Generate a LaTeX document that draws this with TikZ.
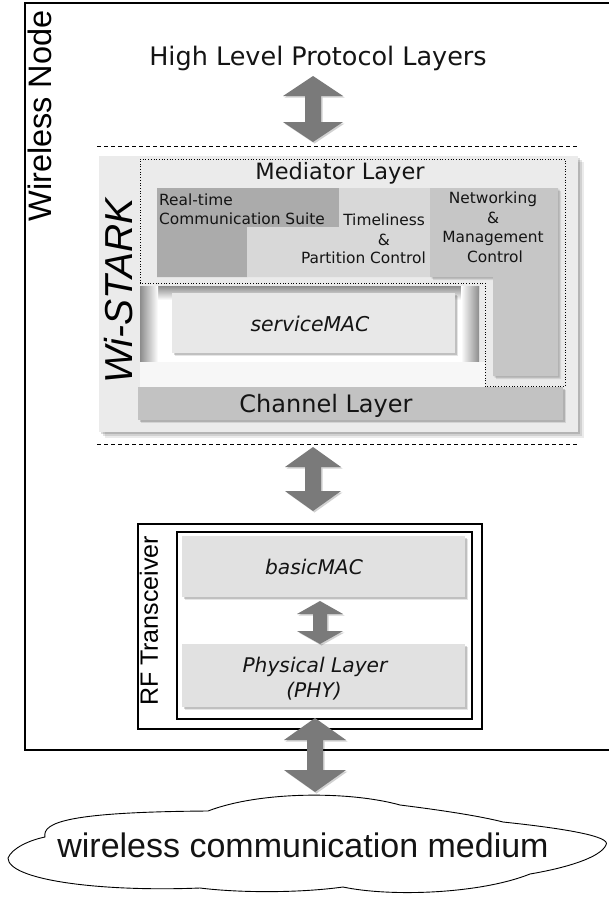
\documentclass[tikz,border=0pt]{standalone}
\usepackage{fontspec}
\setmainfont{DejaVu Sans}
\newfontfamily\hfont{Liberation Sans}
\usetikzlibrary{shadows,calc}
\definecolor{arrgray}{HTML}{7A7A7A}
\definecolor{wsbg}{HTML}{EBEBEB}
\definecolor{rtgray}{HTML}{ABABAB}
\definecolor{tlgray}{HTML}{D8D8D8}
\definecolor{nmgray}{HTML}{C6C6C6}
\definecolor{chgray}{HTML}{C2C2C2}
\definecolor{boxgray}{HTML}{E8E8E8}
\definecolor{edgegray}{HTML}{8C8C8C}
\definecolor{txt}{HTML}{141414}
\newcommand\fsz[1]{\fontsize{#1}{#1}\selectfont}
% double block arrow: top coord, bottom coord, head half width, head length, shaft half width
\newcommand\dblarr[5]{%
  \fill[arrst] (#1) -- ++(#3,#4) -- ++(#5-#3,0) -- ($(#2)+(#5,-#4)$) -- ++(#3-#5,0)
    -- (#2) -- ++(-#3,-#4) -- ++(#3-#5,0) -- ($(#1)+(-#5,#4)$) -- ++(#5-#3,0) -- cycle;}
\tikzset{
  softshadow/.style={general shadow={shadow xshift=1.5pt,shadow yshift=-1.5pt,fill=black,opacity=.16},
                     general shadow={shadow xshift=3pt,shadow yshift=-3pt,fill=black,opacity=.10}},
  bigshadow/.style={general shadow={shadow xshift=2pt,shadow yshift=-2pt,fill=black,opacity=.14},
                    general shadow={shadow xshift=4pt,shadow yshift=-4pt,fill=black,opacity=.11},
                    general shadow={shadow xshift=6pt,shadow yshift=-6pt,fill=black,opacity=.08}},
  arrst/.style={fill=arrgray, general shadow={shadow xshift=1.5pt,shadow yshift=-1.5pt,fill=black,opacity=.18}},
  layerbox/.style={rectangle, inner sep=0, anchor=north west, fill=boxgray, softshadow},
  lbl/.style={inner sep=0, anchor=base, text=txt},
  frame/.style={draw, line width=1.5pt, rectangle, inner sep=0, anchor=north west},
}
\begin{document}
\begin{tikzpicture}[x=1pt,y=-1pt]
\useasboundingbox (0,0) rectangle (608,897);

% Wireless node frame
\draw[line width=1.5pt] (25,3) rectangle (640,750);
\node[rotate=90, inner sep=0, font=\hfont\fsz{32.5}] (wnode) at (40,116) {Wireless Node};

% high level
\node[lbl, font=\fsz{25.5}] (hl) at (318,65) {High Level Protocol Layers};

% dashed separators
\draw[line width=0.6pt, dash pattern=on 4pt off 3pt] (97,146) -- (577,146);
\draw[line width=0.6pt, dash pattern=on 4pt off 3pt] (97,444) -- (577,444);

% Wi-STARK box
\node[anchor=north west, minimum width=479pt, minimum height=276pt, fill=wsbg, inner sep=0, bigshadow] (ws) at (99,156) {};
\node[rotate=90, inner sep=0, font=\hfont\itshape\fsz{39}] (wslabel) at (119,291) {Wi-STARK};

% mediator layer (dotted outline)
\draw[dotted, line width=0.7pt, fill=wsbg] (140,159) -- (565,159) -- (565,386) -- (485,386) -- (485,283) -- (140,283) -- cycle;
\node[lbl, font=\fsz{22.5}] (med) at (340,179) {Mediator Layer};

% real-time communication suite
\fill[rtgray] (157,188) -- (339,188) -- (339,227) -- (247,227) -- (247,277) -- (157,277) -- cycle;
% timeliness & partition control
\fill[tlgray] (339,188) -- (430,188) -- (430,277) -- (247,277) -- (247,227) -- (339,227) -- cycle;
% networking & management control
\fill[nmgray, softshadow] (430,188) -- (558,188) -- (558,376) -- (493,376) -- (493,277) -- (430,277) -- cycle;

\node[lbl, anchor=base west, font=\fsz{15.4}] (rt1) at (159,205) {Real-time};
\node[lbl, anchor=base west, font=\fsz{15.4}] (rt2) at (159,224) {Communication Suite};
\node[lbl, anchor=base east, font=\fsz{15.4}] (tp1) at (425,225) {Timeliness};
\node[lbl, font=\fsz{15.4}] (tp2) at (384,245) {\&};
\node[lbl, anchor=base east, font=\fsz{15.4}] (tp3) at (426,263) {Partition Control};
\node[lbl, font=\fsz{15.4}] (nm1) at (493,203) {Networking};
\node[lbl, font=\fsz{15.4}] (nm2) at (493,223) {\&};
\node[lbl, font=\fsz{15.4}] (nm3) at (493,242) {Management};
\node[lbl, font=\fsz{15.4}] (nm4) at (495,262) {Control};

% serviceMAC region (inner shadow)
\fill[white] (140,286) rectangle (479,362);
\shade[top color=edgegray, bottom color=white] (140,286) rectangle (479,300);
\shade[left color=edgegray, right color=white] (140,286) rectangle (158,362);
\shade[left color=white, right color=edgegray] (461,286) rectangle (479,362);
\fill[white!60!wsbg] (140,362) rectangle (485,387);
\node[layerbox, minimum width=283pt, minimum height=60pt] (smac) at (172,293) {};
\node[lbl, font=\itshape\fsz{20.4}] (smact) at (310,331) {serviceMAC};

% channel layer
\node[layerbox, fill=chgray, minimum width=425pt, minimum height=33pt] (chan) at (138,387) {};
\node[lbl, font=\fsz{24}] (chant) at (326,412) {Channel Layer};

% RF transceiver
\node[frame, minimum width=344pt, minimum height=205pt] (rf) at (137,523) {};
\node[frame, minimum width=295pt, minimum height=187pt] (rfin) at (176,531) {};
\node[rotate=90, inner sep=0, font=\hfont\fsz{25}] (rflabel) at (149,621) {RF Transceiver};
\node[layerbox, fill=boxgray!97!black, minimum width=283pt, minimum height=61pt] (bmac) at (182,536) {};
\node[lbl, font=\itshape\fsz{20.2}] (bmact) at (314,574) {basicMAC};
\node[layerbox, fill=boxgray!97!black, minimum width=283pt, minimum height=63pt] (phy) at (182,644) {};
\node[lbl, font=\itshape\fsz{20.2}] (phyt1) at (315,672) {Physical Layer};
\node[lbl, font=\itshape\fsz{20.2}] (phyt2) at (314,697) {(PHY)};

% cloud
\draw[line width=0.9pt, fill=white] (8,858) .. controls (12,848) and (30,840) .. (45,837)
  .. controls (42,822) and (70,812) .. (208,811)
  .. controls (260,791) and (350,791) .. (400,805)
  .. controls (440,810) and (480,816) .. (503,822)
  .. controls (560,828) and (612,836) .. (606,845)
  .. controls (600,858) and (565,868) .. (530,874)
  .. controls (480,894) and (390,897) .. (343,887)
  .. controls (300,893) and (240,893) .. (200,888)
  .. controls (100,892) and (8,880) .. (8,858) -- cycle;
\node[lbl, font=\hfont\fsz{34}] (medium) at (303,857) {wireless communication medium};

% arrows
\coordinate (a1t) at (313,76);  \coordinate (a1b) at (313,142);
\coordinate (a2t) at (313,447); \coordinate (a2b) at (313,511);
\coordinate (a3t) at (320,601); \coordinate (a3b) at (320,644);
\coordinate (a4t) at (315,718); \coordinate (a4b) at (315,792);
\dblarr{a1t}{a1b}{30}{20}{8}
\dblarr{a2t}{a2b}{28}{20}{8}
\dblarr{a3t}{a3b}{23}{13}{7}
\dblarr{a4t}{a4b}{31}{22}{8}
\end{tikzpicture}
\end{document}
